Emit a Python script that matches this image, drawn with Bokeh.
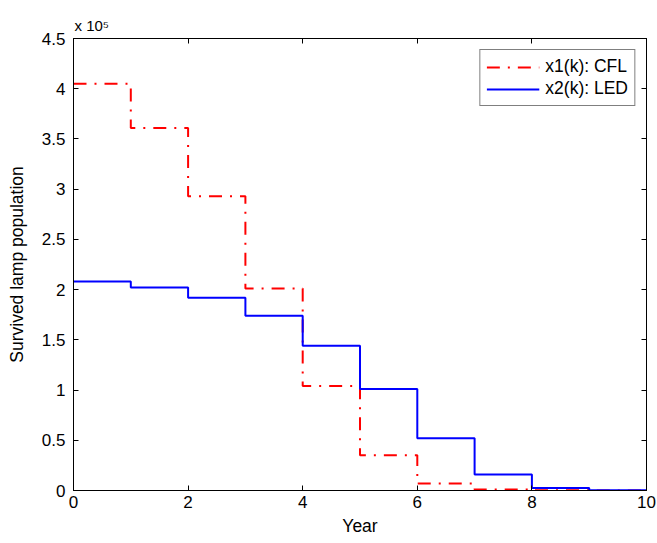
from bokeh.plotting import figure
from bokeh.models import Range1d, FixedTicker, LinearAxis, Legend, LegendItem
from bokeh.embed import file_html
from bokeh.resources import INLINE

years = [0, 1, 2, 3, 4, 5, 6, 7, 8, 9, 10]
cfl = [405000, 361000, 293000, 201000, 104000, 35000, 7000, 1000, 300, 100, 0]
led = [208000, 202000, 192000, 174000, 144000, 101000, 52000, 16000, 2500, 300, 0]
x_ticks = [0, 2, 4, 6, 8, 10]
y_ticks = [0, 50000, 100000, 150000, 200000, 250000, 300000, 350000, 400000, 450000]
y_tick_labels = ["0", "0.5", "1", "1.5", "2", "2.5", "3", "3.5", "4", "4.5"]

FONT = "Liberation Sans"
TICK_FS = "17px"
LABEL_FS = "17.5px"

p = figure(width=657, height=543, output_backend="svg", toolbar_location=None,
           x_range=Range1d(0, 10), y_range=Range1d(0, 450000),
           min_border_left=73, min_border_right=11, min_border_top=38, min_border_bottom=53)
p.background_fill_color = "white"
p.border_fill_color = "white"
p.outline_line_color = "black"
p.outline_line_width = 1
p.grid.visible = False

# exponent marker above the top-left corner
p.title.text = "x 10\u2075"
p.title.align = "left"
p.title.offset = 1
p.title.standoff = 9
p.title.text_font = FONT
p.title.text_font_size = "15px"
p.title.text_font_style = "normal"
p.title.text_color = "black"

p.xaxis.ticker = FixedTicker(ticks=x_ticks)
p.yaxis.ticker = FixedTicker(ticks=y_ticks)
p.yaxis.major_label_overrides = {t: l for t, l in zip(y_ticks, y_tick_labels)}
for ax in (p.xaxis[0], p.yaxis[0]):
    ax.major_tick_in = 5
    ax.major_tick_out = 0
    ax.minor_tick_in = 0
    ax.minor_tick_out = 0
    ax.major_label_text_font = FONT
    ax.major_label_text_font_size = TICK_FS
    ax.major_label_text_color = "black"
    ax.axis_label_text_font = FONT
    ax.axis_label_text_font_size = LABEL_FS
    ax.axis_label_text_font_style = "normal"
    ax.axis_label_text_color = "black"
    ax.axis_line_color = "black"
    ax.major_tick_line_color = "black"
p.xaxis.axis_label = "Year"
p.yaxis.axis_label = "Survived lamp population"
p.xaxis.major_label_standoff = 5
p.yaxis.major_label_standoff = 8
p.xaxis.axis_label_standoff = 5
p.yaxis.axis_label_standoff = 12

right = LinearAxis(ticker=FixedTicker(ticks=y_ticks),
                   major_label_overrides={t: "" for t in y_ticks},
                   major_tick_in=5, major_tick_out=0, minor_tick_in=0, minor_tick_out=0,
                   axis_line_color="black", major_label_standoff=0)
top = LinearAxis(ticker=FixedTicker(ticks=x_ticks),
                 major_label_overrides={t: "" for t in x_ticks},
                 major_tick_in=5, major_tick_out=0, minor_tick_in=0, minor_tick_out=0,
                 axis_line_color="black", major_label_standoff=0)
p.add_layout(right, "right")
p.add_layout(top, "above")

r1 = p.step(years, cfl, mode="after", line_color="#ff0000", line_width=2, line_dash="13 8 2 8")
r2 = p.step(years, led, mode="after", line_color="#0000ff", line_width=2)

legend = Legend(items=[LegendItem(label="x1(k): CFL", renderers=[r1]),
                       LegendItem(label="x2(k): LED", renderers=[r2])],
                location="top_right")
legend.label_text_font = FONT
legend.label_text_font_size = LABEL_FS
legend.label_text_color = "black"
legend.glyph_width = 53
legend.glyph_height = 20
legend.label_standoff = 6
legend.padding = 6
legend.spacing = 1
legend.margin = 11
legend.border_line_color = "black"
legend.border_line_width = 1.5
legend.background_fill_alpha = 1
p.add_layout(legend)

open("out.html", "w").write(file_html(p, INLINE))
